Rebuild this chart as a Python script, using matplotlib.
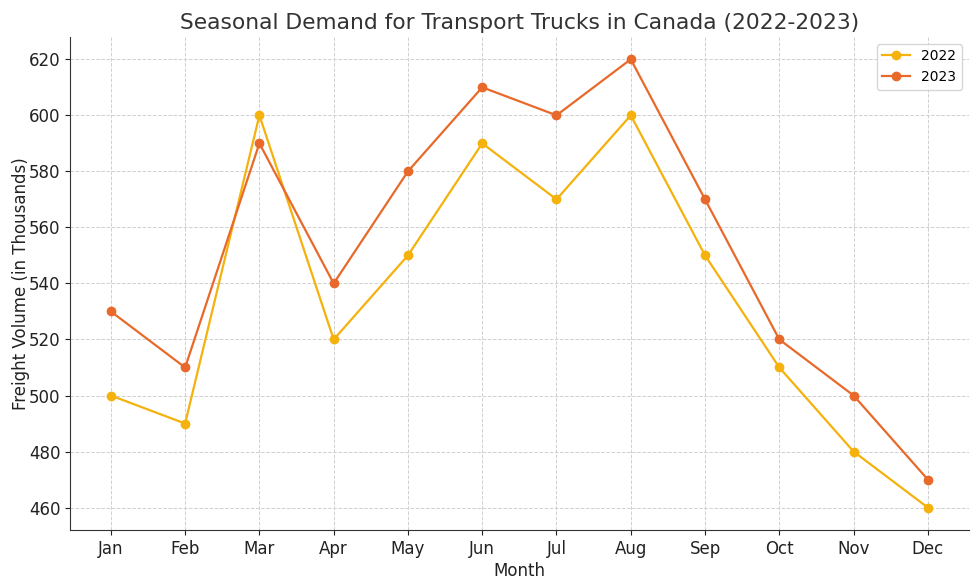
import matplotlib
matplotlib.use('Agg')
from matplotlib import pyplot as plt

months = ['Jan', 'Feb', 'Mar', 'Apr', 'May', 'Jun',
          'Jul', 'Aug', 'Sep', 'Oct', 'Nov', 'Dec']
vol_2022 = [500, 490, 600, 520, 550, 590, 570, 600, 550, 510, 480, 460]
vol_2023 = [530, 510, 590, 540, 580, 610, 600, 620, 570, 520, 500, 470]

fig = plt.figure(figsize=(9.79, 5.85), dpi=100)
ax = fig.add_axes([0.0715, 0.094, 0.918, 0.843])

ax.plot(months, vol_2022, marker='o', markersize=6, linewidth=1.6,
        color='#F5B10C', label='2022')
ax.plot(months, vol_2023, marker='o', markersize=6, linewidth=1.6,
        color='#E8692A', label='2023')

ax.set_title('Seasonal Demand for Transport Trucks in Canada (2022-2023)',
             fontsize=15.7, color='#333333')
ax.set_xlabel('Month', fontsize=12, color='#222222', labelpad=3)
ax.set_ylabel('Freight Volume (in Thousands)', fontsize=12, color='#222222',
              labelpad=-1)
ax.tick_params(labelsize=12, colors='#222222')
ax.grid(True, linestyle='--', color='#d0d0d0', linewidth=0.7)
ax.spines['top'].set_visible(False)
ax.spines['right'].set_visible(False)
ax.spines['left'].set_color('#333333')
ax.spines['bottom'].set_color('#333333')
ax.legend(loc='upper right', fontsize=10)

fig.savefig('out.png', dpi=100)
